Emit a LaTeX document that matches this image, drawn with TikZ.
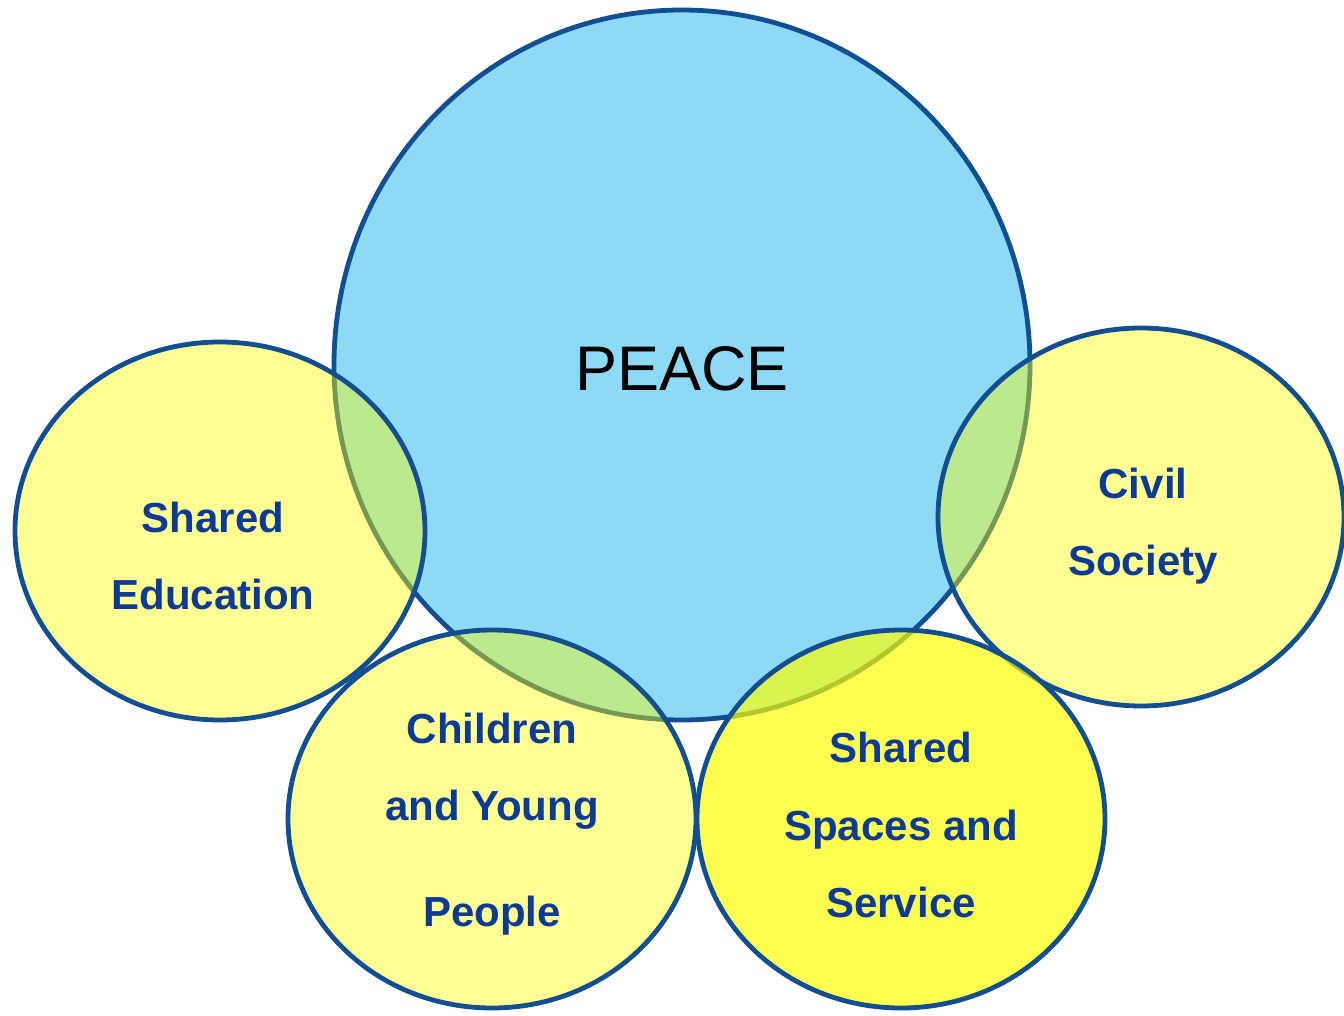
\documentclass[tikz,border=0pt]{standalone}
\usepackage{fontspec}
\setmainfont{Liberation Sans}
\definecolor{peaceblue}{HTML}{8CDAF6}
\definecolor{rimblue}{HTML}{124E92}
\definecolor{txtblue}{HTML}{0D3A94}
\definecolor{yel}{HTML}{FFFF00}
\begin{document}
\begin{tikzpicture}[x=0.5pt,y=-0.5pt,
  rim/.style={draw=rimblue,line width=2.4pt},
  lbl/.style={text=txtblue,font=\fontsize{21}{25}\selectfont\bfseries,anchor=base,inner sep=0pt},
  pale/.style={rim,fill=yel,fill opacity=0.42},
  bright/.style={rim,fill=yel,fill opacity=0.68}]
\useasboundingbox (0,0) rectangle (1344,1016);
\fill[white] (0,0) rectangle (1344,1016);
% big circle
\draw[rim,fill=peaceblue] (682,365) ellipse [x radius=348, y radius=355];
\node[anchor=base,inner sep=0pt,font=\fontsize{31.5}{36}\selectfont] (peace) at (682,390) {PEACE};
% yellow ellipses
\draw[pale] (220,531) ellipse [x radius=205, y radius=189];
\draw[pale] (1141,517) ellipse [x radius=203, y radius=189];
\draw[pale] (492,819) ellipse [x radius=204, y radius=189];
\draw[bright] (901,819) ellipse [x radius=204, y radius=189];
% labels
\node[lbl] (se1) at (213,532) {Shared};
\node[lbl] (se2) at (213,609) {Education};
\node[lbl] (cs1) at (1143,498) {Civil};
\node[lbl] (cs2) at (1143,575) {Society};
\node[lbl] (cy1) at (492,743) {Children};
\node[lbl] (cy2) at (492,820) {and Young};
\node[lbl] (cy3) at (492,926) {People};
\node[lbl] (ss1) at (901,762) {Shared};
\node[lbl] (ss2) at (901,840) {Spaces and};
\node[lbl] (ss3) at (901,917) {Service};
\end{tikzpicture}
\end{document}
